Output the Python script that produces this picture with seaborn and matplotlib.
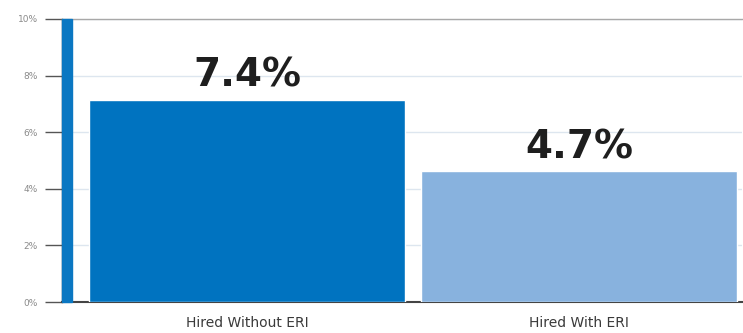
import matplotlib
matplotlib.use("Agg")
import matplotlib.pyplot as plt
import seaborn as sns
import pandas as pd
from matplotlib.patches import Rectangle

# data
groups = ["Hired Without ERI", "Hired With ERI"]
bar_heights = [7.15, 4.62]          # drawn bar heights (%)
value_labels = ["7.4%", "4.7%"]     # printed labels
bar_colors = ["#0073c0", "#88b2de"]
yticks = [0, 2, 4, 6, 8, 10]
ytick_labels = ["0%", "2%", "4%", "6%", "8%", "10%"]

df = pd.DataFrame({"group": groups, "value": bar_heights})

sns.set_style("white")
plt.rcParams["font.family"] = ["Liberation Sans Narrow", "DejaVu Sans"]

fig = plt.figure(figsize=(7.43, 3.33), dpi=100)
ax = fig.add_axes([62 / 743, 1 - 302 / 333, 680 / 743, 283 / 333])

sns.barplot(data=df, x="group", y="value", hue="group", palette=bar_colors,
            width=0.95, legend=False, ax=ax, zorder=3, saturation=1)

ax.set_xlim(-0.557, 1.491)
ax.set_ylim(0, 10)
ax.set_yticks(yticks)
ax.set_yticklabels(ytick_labels, fontsize=6.5, color="#8a8a8a")
ax.tick_params(axis="y", length=12.5, width=1, color="#555555", pad=5, left=True)
ax.tick_params(axis="x", length=0, pad=10, labelsize=10, labelcolor="#3a3a3a")
ax.set_xlabel("")
ax.set_ylabel("")
ax.yaxis.grid(True, color="#dde6ef", linewidth=1, zorder=0)

ax.spines["right"].set_visible(False)
ax.spines["top"].set_visible(True)
ax.spines["top"].set_color("#a8a8a8")
ax.spines["top"].set_linewidth(1)
ax.spines["bottom"].set_color("#444444")
ax.spines["bottom"].set_linewidth(1.5)
ax.spines["left"].set_color("#444444")
ax.spines["left"].set_linewidth(1)

# blue stripe along the y axis
ax.add_patch(Rectangle((0, 0), 10 / 680, 1, transform=ax.transAxes,
                       color="#0a77c2", zorder=4, clip_on=False))

for i, lab in enumerate(value_labels):
    ax.text(i, bar_heights[i] + 0.18, lab, ha="center", va="bottom",
            fontsize=28, fontweight="bold", color="#1e1e1e",
            family=["DejaVu Sans"])

fig.savefig("out.png", dpi=100)
